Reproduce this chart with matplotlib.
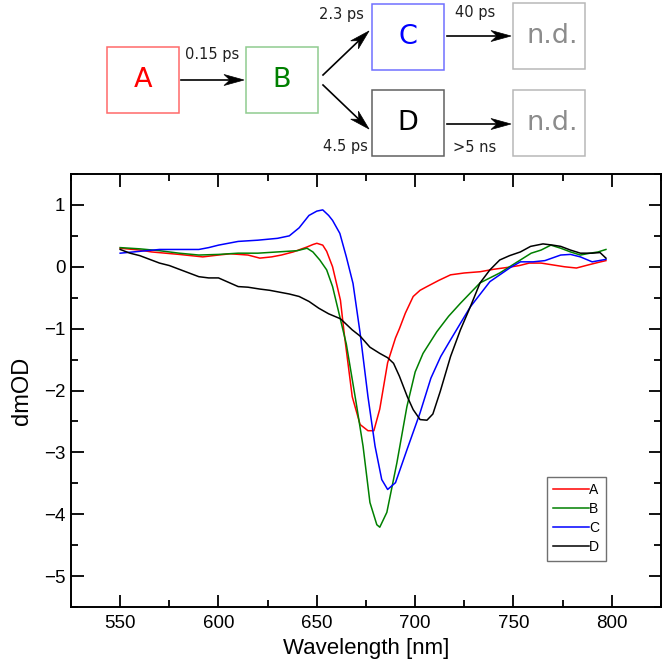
import matplotlib.pyplot as plt
import numpy as np
from matplotlib.patches import Rectangle, Polygon
from matplotlib.ticker import MultipleLocator

# spectra (wavelength in nm, dmOD)
wl_a = [550, 560, 566, 580, 592, 600, 606, 615, 621, 627, 632, 638, 645, 648, 650, 653, 655, 658,
        662, 664, 668, 672, 676, 679, 682, 686, 690, 692, 695, 699, 702.5, 706, 712, 718, 725, 733,
        740, 747, 753, 758, 764, 770, 776, 782, 788, 793, 797]
od_a = [0.30, 0.27, 0.24, 0.20, 0.16, 0.19, 0.21, 0.19, 0.14, 0.16, 0.19, 0.24, 0.32, 0.36, 0.38, 0.35,
        0.25, 0.00, -0.54, -1.10, -2.10, -2.55, -2.65, -2.65, -2.30, -1.55, -1.15, -1.00, -0.75, -0.48,
        -0.38, -0.32, -0.22, -0.13, -0.10, -0.08, -0.04, -0.01, 0.02, 0.06, 0.06, 0.03, 0.00, -0.02,
        0.03, 0.07, 0.10]

wl_b = [550, 560, 570, 580, 590, 600, 610, 620, 630, 640, 645, 648, 651.5, 655, 658, 661.7, 665, 670,
        673.5, 677, 680.5, 682, 685.6, 690.7, 695.8, 700, 704, 711, 717, 723, 733, 743, 753.5, 759,
        764, 769, 774, 779, 784, 789, 793, 797]
od_b = [0.31, 0.29, 0.26, 0.22, 0.19, 0.20, 0.22, 0.22, 0.24, 0.26, 0.30, 0.24, 0.11, -0.05, -0.32,
        -0.81, -1.25, -2.20, -2.90, -3.81, -4.17, -4.21, -3.97, -3.17, -2.26, -1.70, -1.40, -1.05,
        -0.80, -0.59, -0.26, -0.10, 0.11, 0.22, 0.27, 0.35, 0.30, 0.24, 0.19, 0.22, 0.24, 0.28]

wl_c = [550, 560, 570, 580, 590, 595, 600, 605, 610, 620, 630, 636, 641, 646, 650, 653, 656, 658,
        661.7, 665, 668.4, 672, 676, 679.6, 683, 686, 690, 695.8, 702.5, 708, 713, 718, 728, 738,
        748.5, 753.5, 760, 766, 774, 779, 784, 790, 797]
od_c = [0.22, 0.25, 0.28, 0.28, 0.28, 0.31, 0.35, 0.38, 0.41, 0.43, 0.46, 0.50, 0.63, 0.83, 0.90, 0.92,
        0.83, 0.75, 0.54, 0.16, -0.27, -1.07, -2.10, -2.90, -3.44, -3.60, -3.49, -2.96, -2.36, -1.80,
        -1.45, -1.18, -0.65, -0.24, -0.01, 0.08, 0.08, 0.10, 0.19, 0.20, 0.16, 0.08, 0.12]

wl_d = [550, 555, 560, 565, 570, 575, 580, 585, 590, 595, 600, 605, 610, 615, 621, 626, 631, 636, 641,
        646, 651, 656, 662, 668, 672, 677, 682, 686, 689, 692, 696, 699, 702.5, 706, 709, 712.7, 718,
        723, 728, 733, 738, 743, 748, 753.5, 758.7, 765, 770, 774, 779, 784, 790, 794, 797]
od_d = [0.28, 0.22, 0.18, 0.12, 0.06, 0.02, -0.04, -0.10, -0.16, -0.18, -0.18, -0.25, -0.32, -0.33,
        -0.36, -0.38, -0.41, -0.44, -0.48, -0.56, -0.67, -0.76, -0.84, -1.02, -1.12, -1.30, -1.40,
        -1.47, -1.56, -1.77, -2.10, -2.31, -2.47, -2.48, -2.38, -2.02, -1.45, -1.02, -0.65, -0.26,
        -0.05, 0.11, 0.18, 0.24, 0.33, 0.37, 0.35, 0.33, 0.27, 0.22, 0.22, 0.23, 0.14]

labels = ['A', 'B', 'C', 'D']
colors = ['#ff0000', '#008000', '#0000ff', '#000000']

# kinetic scheme: box label, text colour, edge colour
box_text = ['A', 'B', 'C', 'D', 'n.d.', 'n.d.']
box_colors = ['#ff0000', '#008000', '#0000ff', '#000000', '#8c8c8c', '#8c8c8c']
box_edges = ['#ff6a6a', '#8fcc8f', '#7070ff', '#606060', '#b8b8b8', '#b8b8b8']
rate_text = ['0.15 ps', '2.3 ps', '4.5 ps', '40 ps', '>5 ns']

plt.rcParams['font.family'] = ['Liberation Sans', 'DejaVu Sans']

fig = plt.figure(figsize=(6.64, 6.70), dpi=100)
ax = fig.add_axes([71 / 664, 1 - 607 / 670, 590 / 664, 433 / 670])

for wl, od, lab, col in zip([wl_a, wl_b, wl_c, wl_d], [od_a, od_b, od_c, od_d], labels, colors):
    ax.plot(wl, od, color=col, lw=1.1, label=lab)

ax.set_xlim(525, 825)
ax.set_ylim(-5.5, 1.5)
ax.xaxis.set_major_locator(MultipleLocator(50))
ax.xaxis.set_minor_locator(MultipleLocator(25))
ax.yaxis.set_major_locator(MultipleLocator(1))
ax.yaxis.set_minor_locator(MultipleLocator(0.5))
ax.tick_params(which='both', direction='in', top=True, right=True, width=1.3, labelsize=13.5)
ax.tick_params(which='major', length=9)
ax.tick_params(which='minor', length=5)
ax.tick_params(axis='x', which='major', pad=6)
ax.tick_params(axis='y', which='major', pad=4)
for sp in ax.spines.values():
    sp.set_linewidth(1.4)
ax.set_xlabel('Wavelength [nm]', fontsize=16, labelpad=4)
ax.set_ylabel('dmOD', fontsize=17, labelpad=8)

leg = ax.legend(loc='upper left', bbox_to_anchor=(547 / 664, 1 - 477 / 670),
                bbox_transform=fig.transFigure, borderaxespad=0, fontsize=10,
                fancybox=False, edgecolor='#707070', framealpha=1,
                handlelength=2.6, handletextpad=0.0, labelspacing=0.36, borderpad=0.45)
leg.get_frame().set_linewidth(1.0)

# overlay in pixel units for the scheme on top
ov = fig.add_axes([0, 0, 1, 1])
ov.set_xlim(0, 664)
ov.set_ylim(670, 0)
ov.axis('off')

box_xy = [(107, 47), (246, 47), (372, 4), (372, 90), (513, 3), (513, 90)]
box_w, box_h = 72, 66
for (bx, by), txt, tc, ec in zip(box_xy, box_text, box_colors, box_edges):
    ov.add_patch(Rectangle((bx, by), box_w, box_h, fill=False, edgecolor=ec, lw=1.1))
    ov.text(bx + box_w / 2 + (3 if txt == 'n.d.' else 0), by + box_h / 2, txt, color=tc,
            fontsize=19.5, ha='center', va='center', family='DejaVu Sans')


def arrow(x0, y0, x1, y1):
    d = np.array([x1 - x0, y1 - y0], dtype=float)
    d /= np.hypot(*d)
    n = np.array([-d[1], d[0]])
    tip = np.array([x1, y1])
    back = tip - 20 * d
    notch = tip - 14 * d
    ov.plot([x0, notch[0]], [y0, notch[1]], color='black', lw=1.2)
    ov.add_patch(Polygon([tip, back + 5.5 * n, notch, back - 5.5 * n], closed=True,
                         facecolor='black', edgecolor='black', lw=0.5))


arrow(181, 80, 244, 80)
arrow(323, 75, 369, 31)
arrow(323, 85, 369, 129)
arrow(447, 36, 511, 36)
arrow(447, 124, 511, 124)

rate_xy = [(212, 55), (341, 14), (345, 147), (475, 12), (475, 147)]
for (tx, ty), txt in zip(rate_xy, rate_text):
    ov.text(tx, ty, txt, fontsize=10.5, ha='center', va='center', color='#202020',
            family='DejaVu Sans')

plt.savefig('out.png', dpi=100)
